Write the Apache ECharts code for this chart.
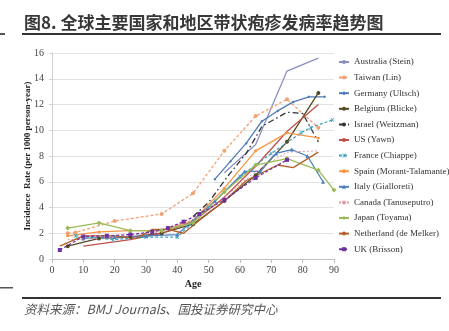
<!DOCTYPE html>
<html>
<head>
<meta charset="utf-8">
<script src="https://cdn.jsdelivr.net/npm/echarts@6/dist/echarts.min.js"></script>
<style>html,body{margin:0;padding:0;background:#fff;}#c{width:449px;height:331px;}</style>
</head>
<body>
<div id="c"></div>
<script>
var titleText = '图8. 全球主要国家和地区带状疱疹发病率趋势图';
var sourceText = '资料来源：BMJ Journals、国投证券研究中心';
var xTicks = [0, 10, 20, 30, 40, 50, 60, 70, 80, 90];
var yTicks = [0, 2, 4, 6, 8, 10, 12, 14, 16];

var australiaAge = [55, 65, 75, 85];
var australiaVal = [6.7, 8.9, 14.6, 15.6];
var taiwanAge = [5, 7.5, 20, 35, 45, 55, 65, 75, 85];
var taiwanVal = [2.0, 2.05, 2.95, 3.5, 5.1, 8.4, 11.1, 12.4, 10.2];
var germanyAge = [52, 57, 62, 67, 72, 77, 82, 87];
var germanyVal = [6.2, 7.6, 9.0, 10.7, 11.5, 12.2, 12.6, 12.6];
var belgiumAge = [5, 15, 25, 35, 45, 55, 65, 75, 85];
var belgiumVal = [1.0, 1.6, 1.7, 2.0, 2.7, 4.5, 6.5, 9.1, 12.9];
var israelAge = [45, 50, 56, 62, 67, 75, 80, 85];
var israelVal = [3.3, 4.4, 6.4, 8.2, 10.3, 11.4, 11.3, 9.1];
var usAge = [10, 25, 35, 45, 55, 65, 75, 85];
var usVal = [1.0, 1.5, 2.0, 2.9, 4.8, 7.2, 9.9, 12.0];
var franceAge = [7.5, 19.5, 30, 40, 50, 60, 70, 79.5, 82.5, 89.5];
var franceVal = [1.8, 1.5, 1.7, 1.7, 4.0, 6.4, 8.2, 9.8, 10.2, 10.8];
var spainAge = [5, 15, 25, 35, 45, 55, 65, 75, 85];
var spainVal = [1.8, 2.1, 2.2, 2.2, 3.0, 5.5, 8.4, 9.8, 9.4];
var italyAge = [10, 20, 30, 40, 45, 52, 61.5, 66.5, 71.5, 76.5, 81.5, 86.5];
var italyVal = [1.6, 1.7, 1.8, 1.9, 3.0, 4.5, 6.8, 6.8, 8.2, 8.5, 8.0, 6.0];
var canadaAge = [5, 15, 25, 35, 45, 55, 65, 75, 85];
var canadaVal = [1.5, 1.6, 1.8, 2.1, 3.0, 4.8, 6.8, 8.3, 8.4];
var japanAge = [5, 15, 25, 35, 45, 55, 65, 75, 85, 90];
var japanVal = [2.4, 2.8, 2.2, 2.2, 2.8, 5.2, 7.3, 7.8, 6.9, 5.35];
var netherlandAge = [2.5, 10, 20, 27, 32, 37, 42, 47, 55, 62, 72, 77, 85];
var netherlandVal = [1.0, 1.8, 1.8, 1.6, 2.3, 2.3, 2.0, 3.0, 4.5, 6.1, 7.3, 7.1, 8.3];
var ukAge = [2.5, 10, 17.5, 25, 32, 37, 42, 47, 55, 65, 75];
var ukVal = [0.7, 1.75, 1.8, 1.9, 2.1, 2.4, 2.9, 3.5, 4.6, 6.3, 7.7];

function zip(a, b) { return a.map(function (x, i) { return [x, b[i]]; }); }

var crossPath = 'path://M0,0L2,0L5,3L8,0L10,0L6,5L10,10L8,10L5,7L2,10L0,10L4,5Z';

function mk(name, ages, vals, color, opt) {
  opt = opt || {};
  return {
    name: name,
    type: 'line',
    data: zip(ages, vals),
    showSymbol: !!opt.symbol,
    symbol: opt.symbol || 'none',
    symbolSize: opt.size || 4,
    lineStyle: { color: color, width: opt.width || 1.3, type: opt.type || 'solid' },
    itemStyle: { color: color },
    color: color,
    animation: false
  };
}

var series = [
  mk('Australia (Stein)', australiaAge, australiaVal, '#8b8fc2', {}),
  mk('Taiwan (Lin)', taiwanAge, taiwanVal, '#f3a072', { symbol: 'circle', size: 4, type: [3, 2] }),
  mk('Germany (Ultsch)', germanyAge, germanyVal, '#4e7bb8', { symbol: 'diamond', size: 3 }),
  mk('Belgium (Blicke)', belgiumAge, belgiumVal, '#514a22', { symbol: 'circle', size: 4 }),
  mk('Israel (Weitzman)', israelAge, israelVal, '#333333', { type: [6, 3, 1.5, 3] }),
  mk('US (Yawn)', usAge, usVal, '#c0504d', {}),
  mk('France (Chiappe)', franceAge, franceVal, '#3fa3c0', { symbol: crossPath, size: 4, type: [3, 2] }),
  mk('Spain (Morant-Talamante)', spainAge, spainVal, '#f79646', { symbol: 'circle', size: 3 }),
  mk('Italy (Gialloreti)', italyAge, italyVal, '#4f81bd', { symbol: 'triangle', size: 4 }),
  mk('Canada (Tanuseputro)', canadaAge, canadaVal, '#e59aa5', { type: [2, 2], width: 1 }),
  mk('Japan (Toyama)', japanAge, japanVal, '#9bbb59', { symbol: 'diamond', size: 5 }),
  mk('Netherland (de Melker)', netherlandAge, netherlandVal, '#b3612c', {}),
  mk('UK (Brisson)', ukAge, ukVal, '#7030a0', { symbol: 'rect', size: 4, type: [3, 2] })
];

var serif = '"Liberation Serif", "DejaVu Serif", serif';

var chart = echarts.init(document.getElementById('c'), null, { renderer: 'canvas' });
chart.setOption({
  backgroundColor: '#fff',
  animation: false,
  grid: { left: 52, right: 115, top: 53, bottom: 72 },
  xAxis: {
    type: 'value', min: xTicks[0], max: xTicks[xTicks.length - 1], interval: 10,
    name: 'Age', nameLocation: 'middle', nameGap: 17,
    nameTextStyle: { fontFamily: serif, fontSize: 10, fontWeight: 'bold', color: '#222' },
    axisLine: { show: true, lineStyle: { color: '#bfbfbf' } },
    axisTick: { show: true, length: 4, lineStyle: { color: '#bfbfbf' } },
    axisLabel: { fontFamily: serif, fontSize: 10, color: '#444', margin: 6 },
    splitLine: { show: false }
  },
  yAxis: {
    type: 'value', min: yTicks[0], max: yTicks[yTicks.length - 1], interval: 2,
    name: 'Incidence  Rate (per 1000 person-year)', nameLocation: 'middle', nameGap: 20, nameRotate: 90,
    nameMoveOverlap: false,
    nameTextStyle: { fontFamily: serif, fontSize: 9, fontWeight: 'bold', color: '#222' },
    axisLine: { show: true, lineStyle: { color: '#d0d0d0' } },
    axisTick: { show: true, length: 3, lineStyle: { color: '#d0d0d0' } },
    axisLabel: { fontFamily: serif, fontSize: 10, color: '#444', margin: 8 },
    splitLine: { show: true, lineStyle: { color: '#e3e3e3', width: 1 } }
  },
  legend: {
    orient: 'vertical', left: 338, top: 57, padding: 0,
    itemWidth: 10, itemHeight: 5, itemGap: 5.6,
    textStyle: { fontFamily: serif, fontSize: 9, lineHeight: 10, height: 10, color: '#333' },
    data: series.map(function (s) { return s.name; })
  },
  graphic: [
    { type: 'text', left: 24, top: 14, style: { text: titleText, font: 'bold 17px "Noto Sans CJK SC"', fill: '#383838' } },
    { type: 'rect', shape: { x: 22, y: 33, width: 419, height: 2 }, style: { fill: '#333' } },
    { type: 'rect', shape: { x: 0, y: 33, width: 5, height: 2 }, style: { fill: '#555' } },
    { type: 'rect', shape: { x: 22, y: 297, width: 419, height: 2 }, style: { fill: '#333' } },
    { type: 'rect', shape: { x: 0, y: 287, width: 13, height: 1.5 }, style: { fill: '#555' } },
    { type: 'text', left: 24, top: 303, style: { text: sourceText, font: 'italic 12.5px "Noto Sans CJK SC"', fill: '#555' } }
  ],
  series: series
});
</script>
</body>
</html>
